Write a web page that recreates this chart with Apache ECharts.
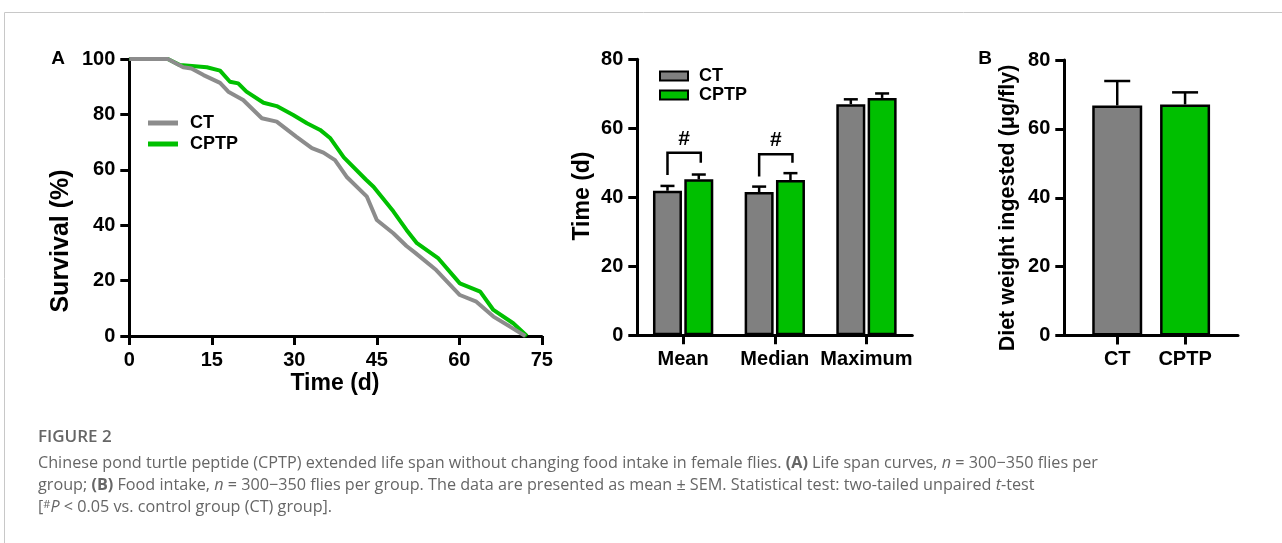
<!DOCTYPE html>
<html>
<head>
<meta charset="utf-8">
<script src="https://cdn.jsdelivr.net/npm/echarts@6/dist/echarts.min.js"></script>
<style>
  html, body { margin: 0; padding: 0; background: #fff; }
  #chart { width: 1282px; height: 543px; }
</style>
</head>
<body>
<div id="chart"></div>
<script>
// panel A: survival curves, [day, % alive]
const ctSurvival = [
  [0, 100], [7, 100], [9.8, 97], [11.3, 96.6], [13.5, 94.2], [16.5, 91.4], [18, 88.2],
  [20.7, 85.2], [24.1, 78.6], [26.8, 77.4], [30.4, 71.9], [33.2, 67.8], [35.3, 66.2],
  [37.4, 63.5], [39.5, 57.5], [43.2, 50.3], [45, 41.9], [48, 37.1], [50.4, 32.5],
  [52, 30], [55.8, 23.8], [60.1, 14.8], [63.1, 12.4], [66.2, 7], [69.2, 3.4], [72, 0]
];
const cptpSurvival = [
  [0, 100], [7, 100], [9.2, 97.8], [14.1, 97], [16.5, 95.8], [18.3, 91.8], [19.8, 91.2],
  [21.3, 88.2], [24.4, 84.2], [26.8, 83], [29.8, 79.8], [32.3, 76.8], [34.7, 74.4],
  [36.5, 71.5], [39, 64.5], [43, 56.5], [44.4, 53.9], [48, 45], [50.4, 38.3], [52.3, 33.5],
  [56.2, 28], [60.1, 19], [63.8, 16], [66.2, 9.4], [69.8, 4.6], [72.3, 0]
];

// panel A right: life span summary
const timeCategories = ["Mean", "Median", "Maximum"];
const ctTime = [41.9, 41.5, 67.0];
const ctTimeUpper = [43.3, 43.1, 68.4];
const cptpTime = [45.2, 45.0, 68.8];
const cptpTimeUpper = [46.6, 47.0, 70.1];
// [category, left leg end, right leg end, bracket top]
const sigBrackets = [[0, 46.5, 50.0, 52.9], [1, 46.0, 50.0, 52.5]];

// panel B: food intake
const intakeGroups = ["CT", "CPTP"];
const intakePos = [1, 2];
const intakeMean = [66.8, 67.1];
const intakeUpper = [73.9, 70.6];

const FONT = '"Liberation Sans", Arial, sans-serif';
const CAP_FONT = '"Open Sans", Lato, sans-serif';
const CAP_SIZE = 16.2;
const GREY = "#808080";
const GREEN = "#00bf00";
const BAR_OFF = 15.65;

const chart = echarts.init(document.getElementById("chart"));

function axisBase() {
  return {
    axisLine: { show: true, lineStyle: { color: "#000", width: 3 } },
    axisTick: { show: true, length: 9, lineStyle: { color: "#000", width: 3 } },
    axisLabel: { color: "#000", fontFamily: FONT, fontWeight: "bold", fontSize: 20, margin: 14 },
    splitLine: { show: false },
  };
}

function errRender(offset, capW) {
  return function (params, api) {
    const p0 = api.coord([api.value(0), api.value(1)]);
    const p1 = api.coord([api.value(0), api.value(2)]);
    const cx = p0[0] + offset;
    const st = { stroke: "#000", lineWidth: 2.5 };
    return {
      type: "group",
      children: [
        { type: "line", shape: { x1: cx, y1: p0[1], x2: cx, y2: p1[1] }, style: st },
        { type: "line", shape: { x1: cx - capW / 2, y1: p1[1], x2: cx + capW / 2, y2: p1[1] }, style: st },
      ],
    };
  };
}

function bracketRender(params, api) {
  const c = api.value(0);
  const pl = api.coord([c, api.value(1)]);
  const pr = api.coord([c, api.value(2)]);
  const pt = api.coord([c, api.value(3)]);
  const xl = pl[0] - BAR_OFF;
  const xr = pl[0] + BAR_OFF + 2;
  return {
    type: "group",
    children: [
      {
        type: "polyline",
        shape: { points: [[xl, pl[1]], [xl, pt[1]], [xr, pt[1]], [xr, pr[1]]] },
        style: { stroke: "#000", lineWidth: 2.5, fill: null },
      },
      {
        type: "text",
        style: {
          text: "#", x: (xl + xr) / 2, y: pt[1] - 14, align: "center", verticalAlign: "middle",
          fontFamily: FONT, fontWeight: "bold", fontSize: 21, fill: "#000",
        },
      },
    ],
  };
}

function label(text, x, y, rot, size) {
  return {
    type: "text", x: x, y: y, rotation: rot || 0,
    style: {
      text: text, align: "center", verticalAlign: "middle",
      fontFamily: FONT, fontWeight: "bold", fontSize: size || 23, fill: "#000",
    },
  };
}

const capRich = {
  b: { fontFamily: CAP_FONT, fontSize: CAP_SIZE, fontWeight: "bold", color: "#666" },
  i: { fontFamily: CAP_FONT, fontSize: CAP_SIZE, fontStyle: "italic", color: "#666" },
  s: { fontFamily: CAP_FONT, fontSize: 11, verticalAlign: "top", color: "#666" },
};
function capLine(text, y) {
  return {
    type: "text", x: 38, y: y,
    style: { text: text, verticalAlign: "middle", rich: capRich, fontFamily: CAP_FONT, fontSize: CAP_SIZE, fill: "#666" },
  };
}

const xA = axisBase(), yA = axisBase(), xM = axisBase(), yM = axisBase(), xB = axisBase(), yB = axisBase();
xM.axisTick.alignWithLabel = true;
xM.axisLabel.interval = 0;
xB.axisTick.customValues = intakePos;
xB.axisLabel.customValues = intakePos;
xB.axisLabel.formatter = (v) => intakeGroups[intakePos.indexOf(v)];

chart.setOption({
  animation: false,
  grid: [
    { left: 129.3, right: 740.2, top: 59, bottom: 207 },
    { left: 637.3, right: 369.7, top: 59.3, bottom: 207.7 },
    { left: 1064.3, right: 44, top: 60, bottom: 207.5 },
  ],
  legend: [
    {
      data: ["CT", "CPTP"], orient: "vertical", left: 143, top: 109,
      icon: "rect", itemWidth: 30, itemHeight: 5, itemGap: 3,
      textStyle: { fontFamily: FONT, fontWeight: "bold", fontSize: 18, color: "#000", lineHeight: 18, padding: [0, 0, 0, 7] },
    },
    {
      data: ["barCT", "barCPTP"], orient: "vertical", left: 654, top: 62,
      icon: "rect", itemWidth: 28, itemHeight: 9, itemGap: 1,
      formatter: (n) => n.replace("bar", ""),
      textStyle: { fontFamily: FONT, fontWeight: "bold", fontSize: 18, color: "#000", lineHeight: 18, padding: [0, 0, 0, 6] },
    },
  ],
  xAxis: [
    Object.assign(xA, { type: "value", gridIndex: 0, min: 0, max: 75, interval: 15 }),
    Object.assign(xM, { type: "category", gridIndex: 1, data: timeCategories }),
    Object.assign(xB, { type: "value", gridIndex: 2, min: 0.22, max: 2.78 }),
  ],
  yAxis: [
    Object.assign(yA, { type: "value", gridIndex: 0, min: 0, max: 100, interval: 20 }),
    Object.assign(yM, { type: "value", gridIndex: 1, min: 0, max: 80, interval: 20 }),
    Object.assign(yB, { type: "value", gridIndex: 2, min: 0, max: 80, interval: 20 }),
  ],
  series: [
    {
      name: "CPTP", type: "line", xAxisIndex: 0, yAxisIndex: 0, data: cptpSurvival,
      showSymbol: false, lineStyle: { color: "#00c000", width: 4 }, itemStyle: { color: "#00c000" },
    },
    {
      name: "CT", type: "line", xAxisIndex: 0, yAxisIndex: 0, data: ctSurvival,
      showSymbol: false, lineStyle: { color: "#8c8c8c", width: 4 }, itemStyle: { color: "#8c8c8c" },
    },
    {
      name: "barCT", type: "bar", xAxisIndex: 1, yAxisIndex: 1, data: ctTime,
      barWidth: 29, barGap: "8%",
      itemStyle: { color: GREY, borderColor: "#000", borderWidth: 2.5 },
    },
    {
      name: "barCPTP", type: "bar", xAxisIndex: 1, yAxisIndex: 1, data: cptpTime,
      barWidth: 29, barGap: "8%",
      itemStyle: { color: GREEN, borderColor: "#000", borderWidth: 2.5 },
    },
    {
      type: "custom", xAxisIndex: 1, yAxisIndex: 1, z: 3,
      data: ctTime.map((v, i) => [i, v, ctTimeUpper[i]]),
      renderItem: errRender(-BAR_OFF, 14),
    },
    {
      type: "custom", xAxisIndex: 1, yAxisIndex: 1, z: 3,
      data: cptpTime.map((v, i) => [i, v, cptpTimeUpper[i]]),
      renderItem: errRender(BAR_OFF, 14),
    },
    {
      type: "custom", xAxisIndex: 1, yAxisIndex: 1, z: 3,
      data: sigBrackets, renderItem: bracketRender,
    },
    {
      type: "bar", xAxisIndex: 2, yAxisIndex: 2, barWidth: 50,
      data: intakeMean.map((v, i) => ({
        value: [intakePos[i], v],
        itemStyle: { color: i === 0 ? GREY : GREEN, borderColor: "#000", borderWidth: 2.5 },
      })),
    },
    {
      type: "custom", xAxisIndex: 2, yAxisIndex: 2, z: 3,
      data: intakeMean.map((v, i) => [intakePos[i], v, intakeUpper[i]]),
      renderItem: errRender(0, 26),
    },
  ],
  graphic: [
    {
      type: "rect", silent: true,
      shape: { x: 4.5, y: 12.5, width: 1400, height: 700 },
      style: { fill: null, stroke: "#c8c8c8", lineWidth: 1 },
    },
    label("A", 58, 59, 0, 19),
    label("B", 985, 59, 0, 19),
    label("Survival (%)", 61, 241, Math.PI / 2, 25),
    label("Time (d)", 335, 384, 0, 23),
    label("Time (d)", 583, 196, Math.PI / 2, 23),
    label("Diet weight ingested (\u03bcg/fly)", 1008, 208, Math.PI / 2, 21.5),
    {
      type: "text", x: 38, y: 437,
      style: { text: "FIGURE 2", verticalAlign: "middle", fontFamily: CAP_FONT, fontSize: 17, fontWeight: 600, fill: "#666" },
    },
    capLine("Chinese pond turtle peptide (CPTP) extended life span without changing food intake in female flies. {b|(A)} Life span curves, {i|n} = 300\u2212350 flies per", 463),
    capLine("group; {b|(B)} Food intake, {i|n} = 300\u2212350 flies per group. The data are presented as mean \u00b1 SEM. Statistical test: two-tailed unpaired {i|t}-test", 485),
    capLine("[{s|#}{i|P} < 0.05 vs. control group (CT) group].", 507),
  ],
});

window.addEventListener("resize", () => chart.resize());
</script>
</body>
</html>
